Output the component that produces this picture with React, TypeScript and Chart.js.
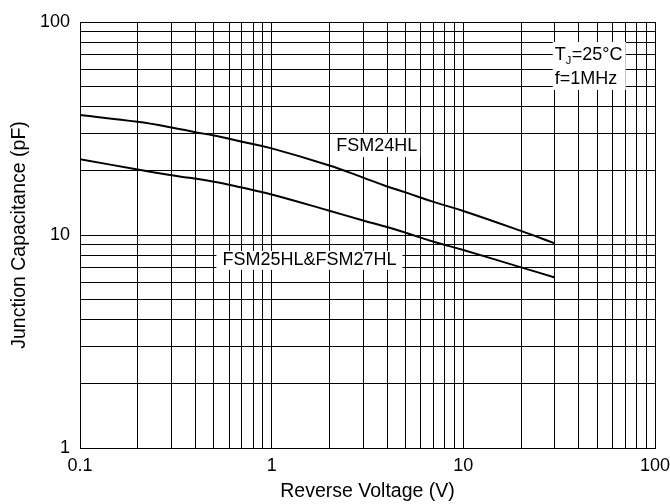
import React, { useEffect, useRef } from 'react';
import { Chart, registerables } from 'chart.js';

Chart.register(...registerables);

const FONT = '"Liberation Sans", Arial, Helvetica, sans-serif';

// Series data (reverse voltage V, junction capacitance pF)
const voltageFSM24 = [0.1, 0.2, 0.3, 0.4, 0.5, 0.7, 1, 2, 3, 4, 5, 7, 10, 20, 30];
const capFSM24 = [36.6, 34.0, 32.0, 30.4, 29.3, 27.4, 25.5, 21.2, 18.6, 16.9, 15.85, 14.3, 12.97, 10.45, 9.14];
const voltageFSM25 = [0.1, 0.2, 0.3, 0.5, 0.7, 1, 2, 3, 4, 5, 7, 10, 20, 30];
const capFSM25 = [22.7, 20.3, 19.1, 17.8, 16.7, 15.5, 13.0, 11.7, 10.9, 10.25, 9.3, 8.5, 7.05, 6.32];

// Tick labels
const xDecades = [0.1, 1, 10, 100];
const yDecades = [1, 10, 100];
const xTickLabels = ['0.1', '1', '10', '100'];
const yTickLabels = ['1', '10', '100'];
const minorSteps = [1, 2, 3, 4, 5, 6, 7, 8, 9];

const seriesNames = ['FSM24HL', 'FSM25HL&FSM27HL'];

function buildTicks(decades: number[]) {
  const out: number[] = [];
  for (let i = 0; i < decades.length - 1; i++) {
    for (const m of minorSteps) out.push(+(decades[i] * m).toPrecision(6));
  }
  out.push(decades[decades.length - 1]);
  return out;
}

function labelFor(value: number, decades: number[], labels: string[]) {
  for (let i = 0; i < decades.length; i++) {
    if (Math.abs(value - decades[i]) / decades[i] < 1e-6) return labels[i];
  }
  return '';
}

const curveLabels = [
  { text: seriesNames[0], v: 3.53, c: 26.3, padX: 3, h: 23 },
  { text: seriesNames[1], v: 1.574, c: 7.6, padX: 6, h: 19 },
];

const labelPlugin = {
  id: 'curveLabels',
  afterDatasetsDraw(chart: any) {
    const { ctx, scales } = chart;
    const xs = scales.x;
    const ys = scales.y;
    ctx.save();
    ctx.font = `18px ${FONT}`;
    ctx.textBaseline = 'middle';
    for (const a of curveLabels) {
      const px = xs.getPixelForValue(a.v);
      const py = ys.getPixelForValue(a.c);
      const w = ctx.measureText(a.text).width;
      ctx.fillStyle = '#fff';
      ctx.fillRect(px - w / 2 - a.padX, py - a.h / 2, w + 2 * a.padX, a.h);
      ctx.fillStyle = '#000';
      ctx.textAlign = 'center';
      ctx.fillText(a.text, px, py);
    }
    // condition box
    const lx = xs.getPixelForValue(30);
    const y1 = ys.getPixelForValue(70);
    const y2 = ys.getPixelForValue(54);
    ctx.fillStyle = '#fff';
    ctx.fillRect(lx - 2, y1 - 13, 73, y2 - y1 + 24);
    ctx.fillStyle = '#000';
    ctx.textAlign = 'left';
    ctx.font = `18px ${FONT}`;
    ctx.fillText('T', lx, y1);
    let cx = lx + ctx.measureText('T').width;
    ctx.font = `11px ${FONT}`;
    ctx.fillText('J', cx, y1 + 6);
    cx += ctx.measureText('J').width + 0.5;
    ctx.font = `18px ${FONT}`;
    ctx.fillText('=25°C', cx, y1);
    ctx.fillText('f=1MHz', lx, y2);
    ctx.restore();
  },
};

export default function App() {
  const ref = useRef<HTMLCanvasElement | null>(null);

  useEffect(() => {
    if (!ref.current) return;
    const xTicks = buildTicks(xDecades);
    const yTicks = buildTicks(yDecades);
    const chart = new Chart(ref.current, {
      type: 'line',
      data: {
        datasets: [
          {
            label: seriesNames[0],
            data: voltageFSM24.map((v, i) => ({ x: v, y: capFSM24[i] })),
            borderColor: '#000',
            borderWidth: 2,
            pointRadius: 0,
            tension: 0.4,
            fill: false,
          },
          {
            label: seriesNames[1],
            data: voltageFSM25.map((v, i) => ({ x: v, y: capFSM25[i] })),
            borderColor: '#000',
            borderWidth: 2,
            pointRadius: 0,
            tension: 0.4,
            fill: false,
          },
        ],
      },
      options: {
        responsive: false,
        animation: false,
        layout: { padding: { top: 22, right: 15, left: 0, bottom: 0 } },
        plugins: {
          legend: { display: false },
          tooltip: { enabled: false },
        },
        scales: {
          x: {
            type: 'logarithmic',
            min: 0.1,
            max: 100,
            afterBuildTicks: (scale: any) => {
              scale.ticks = xTicks.map((v) => ({ value: v }));
            },
            afterFit: (scale: any) => {
              scale.height = 56;
              scale.paddingLeft = 0;
              scale.paddingRight = 0;
            },
            ticks: {
              autoSkip: false,
              maxRotation: 0,
              padding: 7,
              color: '#000',
              font: { family: FONT, size: 18 },
              callback: (value: any) => labelFor(Number(value), xDecades, xTickLabels),
            },
            grid: { color: '#000', lineWidth: 1, drawTicks: false },
            border: { display: true, color: '#000', width: 1 },
            title: {
              display: true,
              text: 'Reverse Voltage (V)',
              color: '#000',
              font: { family: FONT, size: 19.5 },
              padding: { top: 0, bottom: 1 },
            },
          },
          y: {
            type: 'logarithmic',
            min: 1,
            max: 100,
            afterBuildTicks: (scale: any) => {
              scale.ticks = yTicks.map((v) => ({ value: v }));
            },
            afterFit: (scale: any) => {
              scale.width = 80;
              scale.paddingTop = 0;
              scale.paddingBottom = 0;
            },
            ticks: {
              autoSkip: false,
              padding: 10,
              color: '#000',
              font: { family: FONT, size: 18 },
              callback: (value: any) => labelFor(Number(value), yDecades, yTickLabels),
            },
            grid: { color: '#000', lineWidth: 1, drawTicks: false },
            border: { display: true, color: '#000', width: 1 },
            title: {
              display: true,
              text: 'Junction Capacitance (pF)',
              color: '#000',
              font: { family: FONT, size: 19.5 },
              padding: { top: 8, bottom: 0 },
            },
          },
        },
      },
      plugins: [labelPlugin],
    } as any);
    return () => chart.destroy();
  }, []);

  return (
    <div style={{ position: 'fixed', left: 0, top: 0, width: 670, height: 504, background: '#fff' }}>
      <canvas ref={ref} width={670} height={504} />
    </div>
  );
}
